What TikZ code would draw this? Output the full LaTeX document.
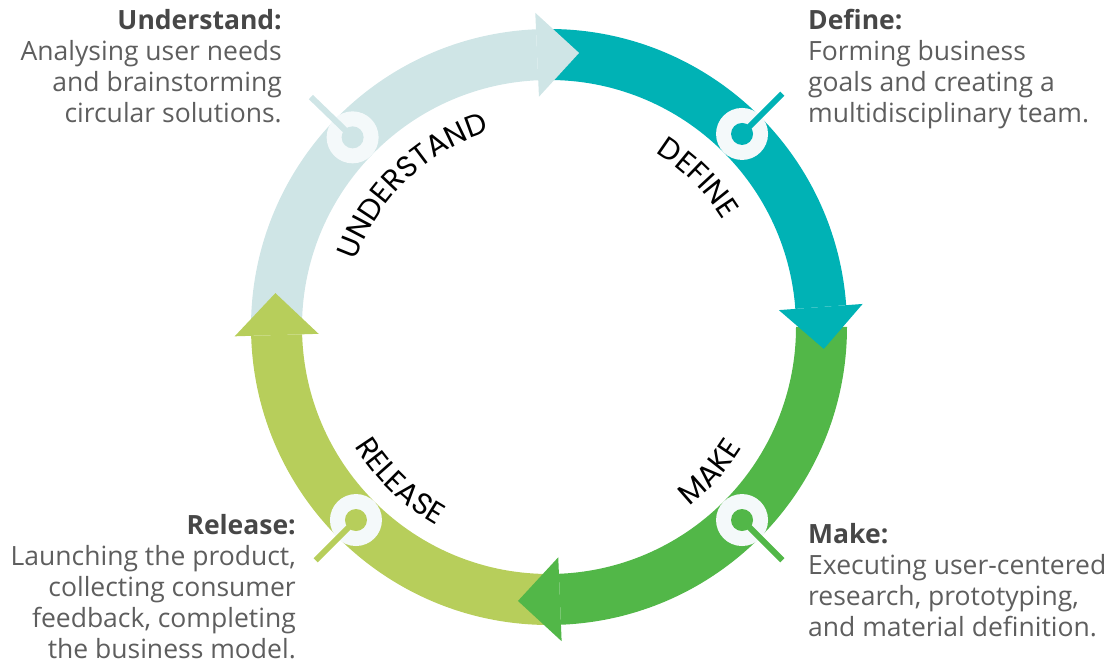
\documentclass[tikz,border=0pt]{standalone}
\usepackage{fontspec}
\setmainfont{Open Sans}
\newfontfamily\labfont{Poppins}
\usetikzlibrary{calc,decorations.text}
\definecolor{cund}{HTML}{CFE5E6}
\definecolor{cdef}{HTML}{00B2B5}
\definecolor{cmak}{HTML}{52B748}
\definecolor{crel}{HTML}{B7CE5B}
\definecolor{cring}{HTML}{F4F9FA}
\definecolor{chead}{HTML}{474747}
\definecolor{cbody}{HTML}{5E5E5E}
\newcommand\myband[3]{%
  \fill[#1] ($(C)+(#2:298)$) arc[start angle=#2,end angle=#3,radius=298]
    -- ($(C)+(#3:247)$) arc[start angle=#3,end angle=#2,radius=247] -- cycle;}
\newcommand\myhead[2]{%
  \fill[#1] ($(C)+(#2:314.5)$) -- ($(C)+(#2:272.5)+(#2-90:42)$)
    -- ($(C)+(#2:230.5)$) -- cycle;}
\tikzset{
  desc/.style={inner sep=0pt, text=cbody, font=\fontsize{26.5}{31}\selectfont},
  ringmark/.style={circle, fill=cring, minimum size=52pt, inner sep=0pt},
  dotmark/.style={circle, fill=#1, minimum size=22pt, inner sep=0pt},
  stick/.style={line width=6pt, #1},
  arclabel/.style={decorate, decoration={text along path, text align=center,
     text={|\labfont\fontsize{30}{30}\selectfont|#1}}}
}
\begin{document}
\begin{tikzpicture}[x=1pt,y=1pt]
\useasboundingbox (0,0) rectangle (1120,663);
\coordinate (C) at (549,336);
% bands
\myband{cund}{180}{92.5}
\myband{cdef}{90}{4.2}
\myband{cmak}{0}{-87.7}
\myband{crel}{-90}{-178.3}
% heads
\myhead{cund}{92.5}
\myhead{cdef}{4.2}
\myhead{cmak}{-87.7}
\myhead{crel}{181.7}
% markers
\node[ringmark] (mU) at ($(C)+(136:273)$) {};
\coordinate (eU) at ($(C)+(136:331)$);
\draw[stick=cund] (mU.center) -- (eU);
\node[dotmark=cund] (dU) at (mU) {};
\node[ringmark] (mD) at ($(C)+(45:273)$) {};
\coordinate (eD) at ($(C)+(45:330)$);
\draw[stick=cdef] (mD.center) -- (eD);
\node[dotmark=cdef] (dD) at (mD) {};
\node[ringmark] (mM) at ($(C)+(-45:273)$) {};
\coordinate (eM) at ($(C)+(-45:330)$);
\draw[stick=cmak] (mM.center) -- (eM);
\node[dotmark=cmak] (dM) at (mM) {};
\node[ringmark] (mR) at ($(C)+(-135:273)$) {};
\coordinate (eR) at ($(C)+(-135:330)$);
\draw[stick=crel] (mR.center) -- (eR);
\node[dotmark=crel] (dR) at (mR) {};
% arc labels
\path[arclabel=UNDERSTAND] ($(C)+(174:204)$) arc[start angle=174,end angle=94,radius=204];
\path[arclabel=DEFINE] ($(C)+(85:204)$) arc[start angle=85,end angle=5,radius=204];
\path[arclabel=MAKE] ($(C)+(-82:228)$) arc[start angle=-82,end angle=-2,radius=228];
\path[arclabel=RELEASE] ($(C)+(-174:228)$) arc[start angle=-174,end angle=-94,radius=228];
% descriptions
\node[desc, align=right, anchor=north east] (tU) at (282,654)
  {{\bfseries\color{chead}Understand:}\\Analysing user needs\\and brainstorming\\circular solutions.};
\node[desc, align=left, anchor=north west] (tD) at (808,654)
  {{\bfseries\color{chead}Define:}\\Forming business\\goals and creating a\\multidisciplinary team.};
\node[desc, align=left, anchor=north west] (tM) at (808,140)
  {{\bfseries\color{chead}Make:}\\Executing user-centered\\research, prototyping,\\and material definition.};
\node[desc, align=right, anchor=north east] (tR) at (296,149)
  {{\bfseries\color{chead}Release:}\\Launching the product,\\collecting consumer\\feedback, completing\\the business model.};
\end{tikzpicture}
\end{document}
